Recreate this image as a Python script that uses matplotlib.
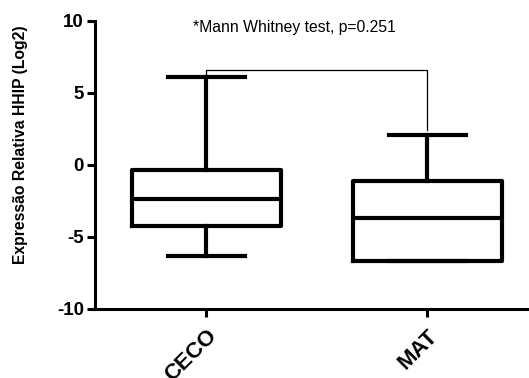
import matplotlib
matplotlib.use('Agg')
import matplotlib.pyplot as plt

## DATA---------------------------------------------------------------------------
groups = ['CECO', 'MAT']
whisker_low = [-6.3, -6.65]
q1 = [-4.25, -6.65]
median = [-2.4, -3.7]
q3 = [-0.35, -1.1]
whisker_high = [6.1, 2.1]

bracket_y = 6.6
test_text = '*Mann Whitney test, p=0.251'
y_label = 'Expressão Relativa HHIP (Log2)'
y_ticks = [-10, -5, 0, 5, 10]
## -------------------------------------------------------------------------------

plt.rcParams['font.family'] = ['Liberation Sans', 'DejaVu Sans']
plt.rcParams['axes.unicode_minus'] = False

fig = plt.figure(figsize=(5.29, 3.78), dpi=100)
ax = fig.add_axes([0.18, 0.183, 0.82, 0.762])

stats = []
for i, g in enumerate(groups):
    stats.append({'label': g, 'whislo': whisker_low[i], 'q1': q1[i], 'med': median[i],
                  'q3': q3[i], 'whishi': whisker_high[i]})

lw = 3.0
ax.bxp(stats, positions=[1, 2], widths=0.675, showfliers=False,
       boxprops=dict(linewidth=lw, color='k'),
       medianprops=dict(linewidth=lw, color='k'),
       whiskerprops=dict(linewidth=lw, color='k'),
       capprops=dict(linewidth=lw, color='k'),
       capwidths=0.35)

# significance bracket
ax.plot([1, 1, 2, 2], [whisker_high[0], bracket_y, bracket_y, whisker_high[1] + 0.3],
        color='k', linewidth=0.9, zorder=1)
ax.text(1.4, 9.5, test_text, fontsize=11.3, ha='center', va='center')

ax.set_xlim(0.498, 2.46)
ax.set_ylim(-10, 10)
ax.set_yticks(y_ticks)
ax.set_xticks([1, 2])
ax.set_xticklabels(groups, rotation=45, ha='right', va='top', rotation_mode='anchor',
                   fontsize=16, fontweight='bold')
for lab in ax.get_yticklabels():
    lab.set_fontsize(13.5)
    lab.set_fontweight('bold')

ax.set_ylabel(y_label, fontsize=11.3, fontweight='bold', va='center')
ax.yaxis.set_label_coords(-0.173, 0.57)

ax.spines['top'].set_visible(False)
ax.spines['right'].set_visible(False)
for s in ['left', 'bottom']:
    ax.spines[s].set_linewidth(2.2)
ax.tick_params(axis='both', width=2.2, length=6, pad=2)
ax.tick_params(axis='x', pad=6)

fig.savefig('out.png', dpi=100)
